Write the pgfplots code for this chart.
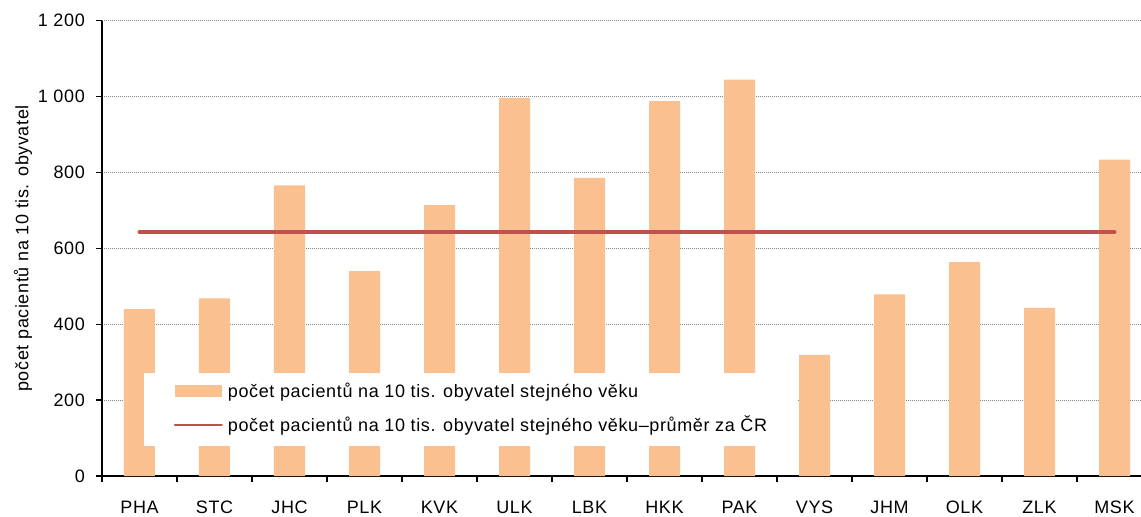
\documentclass[border=0pt]{standalone}
\usepackage{pgfplots}
\pgfplotsset{compat=1.18}
\usepackage{fontspec}
\setmainfont{Liberation Sans}[LetterSpace=3.5]
\definecolor{barc}{HTML}{FAC090}
\definecolor{linec}{HTML}{C0504D}
\definecolor{gridc}{HTML}{868686}
\begin{document}
\begin{tikzpicture}
\useasboundingbox (-102bp,-41bp) rectangle (1039bp,476bp);
\begin{axis}[
  scale only axis, width=1050bp, height=455.2bp,
  xmin=-0.5, xmax=13.5, ymin=0, ymax=1200,
  axis lines*=left,
  axis line style={line width=2.2bp, black},
  clip=false,
  xtick={0,...,13},
  xticklabels={PHA,STC,JHC,PLK,KVK,ULK,LBK,HKK,PAK,VYS,JHM,OLK,ZLK,MSK},
  xtick style={draw=none},
  extra x ticks={-0.5,0.5,...,13.5},
  extra x tick labels={},
  extra x tick style={grid=none, xtick style={draw=black, line width=1.3bp}},
  ytick={0,200,...,1200},
  yticklabels={0,200,400,600,800,1\ 000,1\ 200},
  ytick style={black, line width=1.3bp},
  tick align=outside,
  major tick length=6bp,
  ymajorgrids,
  major grid style={draw=gridc, line width=1bp, dash pattern=on 1bp off 1bp},
  tick label style={font=\fontsize{18bp}{21bp}\selectfont, black},
  xticklabel style={inner sep=0pt, yshift=-19bp},
  yticklabel style={inner sep=0pt, xshift=-11bp},
  ylabel={počet pacientů na 10 tis. obyvatel},
  every axis y label/.style={at={(axis description cs:-0.0752,0.5)}, rotate=90, anchor=center, font=\fontsize{18bp}{21bp}\selectfont},
  legend style={at={(axis description cs:0.0683,0.2056)}, anchor=north west, draw=none, fill=none, inner sep=0pt,
    font=\fontsize{18bp}{21bp}\selectfont, row sep=17.5bp,
    nodes={inner sep=0pt},
    /tikz/every odd column/.append style={column sep=5bp}},
  legend cell align=left,
]
\addplot[ybar, bar width=31bp, draw=none, fill=barc,
  legend image code/.code={\fill[barc] (0bp,-6bp) rectangle (47bp,6bp);}]
  coordinates {(0,440) (1,468) (2,766) (3,540) (4,714) (5,997) (6,786) (7,988) (8,1045) (9,319) (10,479) (11,564) (12,443) (13,834)};
\addlegendentry{počet pacientů na 10 tis. obyvatel stejného věku}
\addplot[draw=linec, line width=4bp, line cap=round, mark=none,
  legend image code/.code={\draw[draw=linec, line width=2bp] (0bp,0bp) -- (47bp,0bp);}]
  coordinates {(0,643) (13,643)};
\addlegendentry{počet pacientů na 10 tis. obyvatel stejného věku–průměr za ČR}
\fill[white] (rel axis cs:0.04,0.0666) rectangle (rel axis cs:0.6619,0.2269);
\end{axis}
\end{tikzpicture}
\end{document}
